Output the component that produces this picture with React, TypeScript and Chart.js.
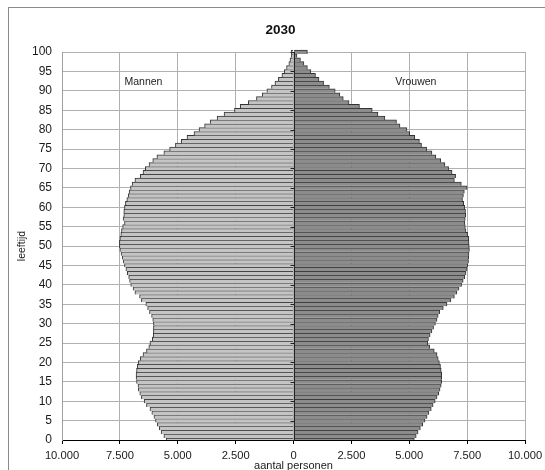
import { useEffect, useRef } from "react";
import { Chart, registerables } from "chart.js";

Chart.register(...registerables);

// ages 0..100
const ages: number[] = Array.from({ length: 101 }, (_, i) => i);

// Mannen (men), persons per age 0..100
const mannen: number[] = [
  5500, 5600, 5720, 5800, 5880, 5960, 6030, 6120, 6200, 6350,
  6450, 6570, 6640, 6700, 6720, 6780, 6800, 6800, 6780, 6750,
  6700, 6620, 6500, 6350, 6250, 6200, 6100, 6060, 6050, 6050,
  6050, 6080, 6130, 6220, 6300, 6380, 6570, 6650, 6850, 6930,
  7030, 7080, 7120, 7180, 7240, 7300, 7360, 7400, 7450, 7500,
  7520, 7520, 7500, 7460, 7430, 7380, 7300, 7360, 7330, 7330,
  7300, 7260, 7200, 7140, 7100, 7040, 6970, 6850, 6620, 6500,
  6400, 6240, 6080, 5900, 5600, 5350, 5100, 4850, 4600, 4300,
  4080, 3840, 3600, 3300, 3000, 2550, 2300, 1950, 1600, 1350,
  1150, 950, 800, 650, 500, 400, 300, 200, 150, 100,
  100,
];

// Vrouwen (women), persons per age 0..100
const vrouwen: number[] = [
  5220, 5300, 5380, 5480, 5580, 5680, 5770, 5850, 5950, 6030,
  6120, 6200, 6270, 6330, 6380, 6400, 6400, 6400, 6380, 6350,
  6300, 6250, 6200, 6080, 5880, 5800, 5830, 5900, 5980, 6050,
  6130, 6200, 6250, 6320, 6470, 6630, 6800, 6950, 7060, 7150,
  7260, 7330, 7400, 7450, 7500, 7530, 7560, 7570, 7580, 7600,
  7590, 7580, 7570, 7520, 7450, 7420, 7400, 7420, 7440, 7430,
  7400, 7350, 7300, 7340, 7380, 7500, 7250, 6950, 7000, 6850,
  6700, 6540, 6360, 6150, 5980, 5750, 5530, 5440, 5240, 5020,
  4900, 4600, 4450, 3950, 3650, 3400, 2850, 2400, 2150, 2000,
  1800, 1550, 1300, 1100, 950, 750, 600, 450, 300, 150,
  600,
];

const X_MIN = -10000;
const X_MAX = 10000;
const X_STEP = 2500;
const Y_MIN = 0;
const Y_MAX = 100;
const Y_STEP = 5;

const TITLE = "2030";
const LABEL_MEN = "Mannen";
const LABEL_WOMEN = "Vrouwen";
const LABEL_MEN_POS = { x: -7300, y: 92.3 };
const LABEL_WOMEN_POS = { x: 4400, y: 92.3 };

const FONT = '"Liberation Sans", Arial, sans-serif';

function fmt(v: number): string {
  return String(Math.abs(v)).replace(/\B(?=(\d{3})+(?!\d))/g, ".");
}

const overlayPlugin = {
  id: "overlay",
  afterDatasetsDraw(chart: any) {
    const { ctx, chartArea, scales } = chart;
    const x = scales.x;
    const y = scales.y;
    const x0 = Math.round(x.getPixelForValue(0)) + 0.5;
    ctx.save();
    ctx.strokeStyle = "#222";
    ctx.lineWidth = 1;
    ctx.beginPath();
    ctx.moveTo(x0, chartArea.top);
    ctx.lineTo(x0, chartArea.bottom);
    for (let v = Y_MIN; v <= Y_MAX; v += Y_STEP) {
      const py = Math.round(y.getPixelForValue(v)) + 0.5;
      ctx.moveTo(x0 - 4, py);
      ctx.lineTo(x0, py);
    }
    ctx.stroke();

    ctx.fillStyle = "#222";
    ctx.font = `10.5px ${FONT}`;
    ctx.textBaseline = "middle";
    ctx.textAlign = "left";
    ctx.fillText(LABEL_MEN, x.getPixelForValue(LABEL_MEN_POS.x), y.getPixelForValue(LABEL_MEN_POS.y));
    ctx.fillText(LABEL_WOMEN, x.getPixelForValue(LABEL_WOMEN_POS.x), y.getPixelForValue(LABEL_WOMEN_POS.y));

    ctx.font = `bold 13.5px ${FONT}`;
    ctx.textAlign = "center";
    ctx.fillStyle = "#111";
    ctx.fillText(TITLE, chart.width / 2 + 8, 30);
    ctx.restore();
  },
};

export default function App() {
  const ref = useRef<HTMLCanvasElement | null>(null);

  useEffect(() => {
    if (!ref.current) return;
    const chart = new Chart(ref.current, {
      type: "bar",
      data: {
        datasets: [
          {
            label: LABEL_MEN,
            data: ages.map((a, i) => ({ x: -mannen[i], y: a })),
            backgroundColor: "#c4c4c4",
            borderColor: "#333333",
            borderWidth: { top: 1, right: 1, bottom: 0, left: 1 } as any,
            grouped: false,
            categoryPercentage: 1,
            barPercentage: 1,
            clip: { left: false, right: false, top: 3, bottom: 0 } as any,
          },
          {
            label: LABEL_WOMEN,
            data: ages.map((a, i) => ({ x: vrouwen[i], y: a })),
            backgroundColor: "#8c8c8c",
            borderColor: "#333333",
            borderWidth: { top: 1, right: 1, bottom: 0, left: 1 } as any,
            grouped: false,
            categoryPercentage: 1,
            barPercentage: 1,
            clip: { left: false, right: false, top: 3, bottom: 0 } as any,
          },
        ],
      },
      options: {
        indexAxis: "y",
        animation: false,
        responsive: false,
        maintainAspectRatio: false,
        layout: { padding: { top: 52, right: 20, bottom: 0, left: 0 } },
        plugins: {
          legend: { display: false },
          tooltip: { enabled: false },
          title: { display: false },
        },
        scales: {
          x: {
            type: "linear",
            min: X_MIN,
            max: X_MAX,
            ticks: {
              stepSize: X_STEP,
              callback: (v: any) => fmt(Number(v)),
              color: "#1a1a1a",
              font: { family: FONT, size: 11.2 },
              padding: 5,
              maxRotation: 0,
              autoSkip: false,
            },
            grid: {
              color: "#b0b0b0",
              lineWidth: 1,
              tickLength: 4,
              tickColor: "#000",
              drawTicks: true,
            },
            border: { display: true, color: "#000", width: 1 },
            title: {
              display: true,
              text: "aantal personen",
              color: "#1a1a1a",
              font: { family: FONT, size: 11, lineHeight: 0.8 },
              padding: { top: 0, bottom: 0 },
            },
            afterFit: (scale: any) => {
              scale.height = 30;
              scale.paddingLeft = 0;
              scale.paddingRight = 0;
            },
          },
          y: {
            type: "linear",
            min: Y_MIN,
            max: Y_MAX,
            offset: false,
            ticks: {
              stepSize: Y_STEP,
              color: "#1a1a1a",
              font: { family: FONT, size: 12 },
              padding: 10,
              autoSkip: false,
            },
            grid: {
              color: "#b0b0b0",
              lineWidth: 1,
              drawTicks: false,
              offset: false,
            },
            border: { display: true, color: "#a0a0a0", width: 1 },
            title: {
              display: true,
              text: "leeftijd",
              color: "#1a1a1a",
              font: { family: FONT, size: 10.5 },
              padding: { top: 16, bottom: 0 },
            },
            afterFit: (scale: any) => {
              scale.width = 62;
              scale.paddingTop = 0;
              scale.paddingBottom = 0;
            },
          },
        },
      } as any,
      plugins: [overlayPlugin],
    });
    return () => chart.destroy();
  }, []);

  return (
    <div
      style={{
        position: "fixed",
        left: 0,
        top: 0,
        width: 545,
        height: 470,
        overflow: "hidden",
        background: "#fff",
      }}
    >
      <div
        style={{
          position: "absolute",
          left: 8,
          top: 7,
          width: 600,
          height: 600,
          borderLeft: "1px solid #8a8a8a",
          borderTop: "1px solid #8a8a8a",
        }}
      />
      <canvas
        ref={ref}
        width={545}
        height={470}
        style={{ position: "absolute", left: 0, top: 0, width: 545, height: 470 }}
      />
    </div>
  );
}
